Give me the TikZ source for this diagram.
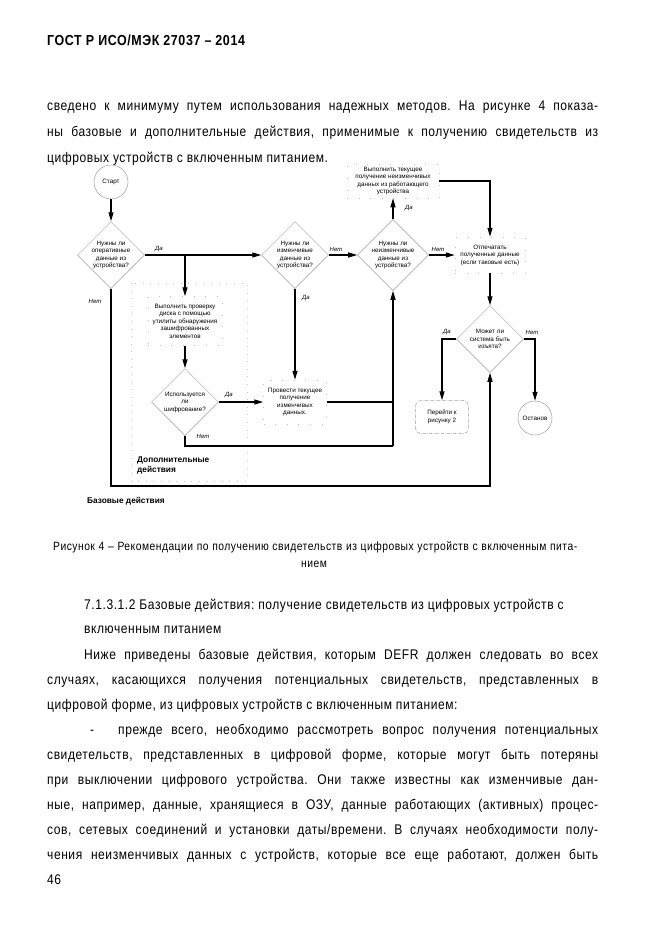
\documentclass[tikz,border=0pt]{standalone}
\usepackage{fontspec}
\setmainfont{Liberation Sans}
\newfontfamily\bodyfont{Liberation Sans}[FakeStretch=0.86,LetterSpace=4]
\usetikzlibrary{shapes.geometric,arrows.meta}
\frenchspacing
\newcommand\bodytxt{\bodyfont\fontsize{14}{16}\selectfont}
\newcommand\captxt{\bodyfont\fontsize{12}{14}\selectfont}
\newcommand\hdtxt{\bodyfont\bfseries\fontsize{14.5}{16}\selectfont}
\newcommand\dtext{\fontsize{6.3}{7.5}\selectfont}
\newcommand\ltext{\fontsize{6}{7}\selectfont\itshape}
\newcommand\grptxt{\fontsize{8.3}{10}\selectfont\bfseries}
\begin{document}
\begin{tikzpicture}[x=1pt,y=-1pt,
  txt/.style={anchor=base west,inner sep=0pt},
  flow/.style={draw=black,line width=1.2pt,-{Triangle[length=9pt,width=5pt]}},
  plain/.style={draw=black,line width=1.2pt},
  dia/.style={diamond,draw=gray!75,line width=0.5pt,minimum width=67pt,minimum height=67pt,inner sep=0pt,align=center,font=\dtext},
  term/.style={circle,draw=gray!75,line width=0.5pt,minimum size=34pt,inner sep=0pt,font=\dtext},
  act/.style={draw=gray!50,line width=0.5pt,dash pattern=on 0.6pt off 11pt,inner sep=0pt,align=center,font=\dtext},
  gotobox/.style={draw=gray!80,line width=0.5pt,rounded corners=5pt,dash pattern=on 3pt off 1.2pt on 0.6pt off 1.2pt,inner sep=0pt,align=center,font=\dtext,minimum width=53pt,minimum height=33pt},
  lab/.style={inner sep=0pt,font=\ltext},
  grp/.style={draw=gray!45,line width=0.5pt,dash pattern=on 0.6pt off 7pt}
]
\useasboundingbox[fill=white] (0,0) rectangle (661,935);

% ---- page text ----
\node[txt] (hdr) at (47,45) {\hdtxt ГОСТ Р ИСО/МЭК 27037 – 2014};
\node[txt] (t1) at (47,110) {\bodytxt\makebox[551pt][s]{сведено к минимуму путем использования надежных методов. На рисунке 4 показа-}};
\node[txt] (t2) at (47,136) {\bodytxt\makebox[551pt][s]{ны базовые и дополнительные действия, применимые к получению свидетельств из}};
\node[txt] (t3) at (47,162) {\bodytxt цифровых устройств с включенным питанием.};

% ---- diagram ----
\node[term] (start) at (111,182) {Старт};
\node[dia] (d1) at (111,255) {Нужны ли\\оперативные\\данные из\\устройства?};
\node[dia] (d2) at (295,255) {Нужны ли\\изменчивые\\данные из\\устройства?};
\node[dia] (d3) at (393,255) {Нужны ли\\неизменчивые\\данные из\\устройства?};
\node[dia] (d4) at (490,339) {Может ли\\система быть\\изъята?};
\node[dia] (d5) at (185,402) {Используется\\ли\\шифрование?};

\node[act,minimum width=92pt,minimum height=34pt] (np) at (393,181) {Выполнить текущее\\получение неизменчивых\\данных из работающего\\устройства};
\node[act,minimum width=70pt,minimum height=36pt] (print) at (490,255) {Отпечатать\\полученные данные\\(если таковые есть)};
\node[act,minimum width=74pt,minimum height=49pt] (disk) at (185,321) {Выполнить проверку\\диска с помощью\\утилиты обнаружения\\зашифрованных\\элементов};
\node[act,minimum width=63pt,minimum height=44pt] (vol) at (295,402) {Провести текущее\\получение\\изменчивых\\данных.};
\node[gotobox] (goto) at (442,417) {Перейти к\\рисунку 2};
\node[term] (stop) at (535,418) {Останов};

\draw[grp] (131,283) rectangle (247,481);
\node[anchor=north west,inner sep=0pt,align=left,font=\grptxt] (grpA) at (137,457) {Дополнительные\\действия};
\node[anchor=north west,inner sep=0pt,font=\grptxt] (grpB) at (87,497) {Базовые действия};

\coordinate (j1) at (185,255);
\coordinate (c1) at (490,486);
\coordinate (c2) at (393,446);

\draw[flow] (start) -- (d1);
\draw[flow] (d1.east) -- (d2.west);
\draw[flow] (j1) -- (disk.north);
\draw[flow] (disk) -- (d5);
\draw[flow] (d5.east) -- (vol.west);
\draw[flow] (d2.south) -- (vol.north);
\draw[flow] (d2.east) -- (d3.west);
\draw[flow] (d3.north) -- (np.south);
\draw[flow] (np.east) -| (print.north);
\draw[flow] (d3.east) -- (print.west);
\draw[flow] (print.south) -- (d4.north);
\draw[flow] (d4.west) -| (goto.north);
\draw[flow] (d4.east) -| (stop.north);
\draw[flow] (d1.south) |- (c1) -- (d4.south);
\draw[plain] (d5.south) |- (c2);
\draw[plain] (vol.east) -- (vol.east -| c2);
\draw[flow] (c2) -- (d3.south);

\node[lab] (l1) at (159,249) {Да};
\node[lab] (l2) at (95,301) {Нет};
\node[lab] (l3) at (336,249) {Нет};
\node[lab] (l4) at (306,298) {Да};
\node[lab] (l5) at (409,208) {Да};
\node[lab] (l6) at (438,249) {Нет};
\node[lab] (l7) at (447,332) {Да};
\node[lab] (l8) at (532,332) {Нет};
\node[lab] (l9) at (229,395) {Да};
\node[lab] (l10) at (203,436) {Нет};

% ---- caption and text below ----
\node[txt] (cap1) at (53,550) {\captxt\makebox[524pt][s]{Рисунок 4 – Рекомендации по получению свидетельств из цифровых устройств с включенным пита-}};
\node[anchor=base,inner sep=0pt] (cap2) at (314,567) {\captxt нием};
\node[txt] (h1) at (84,609) {\bodytxt 7.1.3.1.2 Базовые действия: получение свидетельств из цифровых устройств с};
\node[txt] (h2) at (84,633) {\bodytxt включенным питанием};
\node[txt] (p1) at (84,659) {\bodytxt\makebox[514pt][s]{Ниже приведены базовые действия, которым DEFR должен следовать во всех}};
\node[txt] (p2) at (47,684) {\bodytxt\makebox[551pt][s]{случаях, касающихся получения потенциальных свидетельств, представленных в}};
\node[txt] (p3) at (47,709) {\bodytxt цифровой форме, из цифровых устройств с включенным питанием:};
\node[txt] (p4a) at (90,734) {\bodytxt -};
\node[txt] (p4) at (118,734) {\bodytxt\makebox[480pt][s]{прежде всего, необходимо рассмотреть вопрос получения потенциальных}};
\node[txt] (p5) at (47,759) {\bodytxt\makebox[551pt][s]{свидетельств, представленных в цифровой форме, которые могут быть потеряны}};
\node[txt] (p6) at (47,784) {\bodytxt\makebox[551pt][s]{при выключении цифрового устройства. Они также известны как изменчивые дан-}};
\node[txt] (p7) at (47,809) {\bodytxt\makebox[551pt][s]{ные, например, данные, хранящиеся в ОЗУ, данные работающих (активных) процес-}};
\node[txt] (p8) at (47,834) {\bodytxt\makebox[551pt][s]{сов, сетевых соединений и установки даты/времени. В случаях необходимости полу-}};
\node[txt] (p9) at (47,859) {\bodytxt\makebox[551pt][s]{чения неизменчивых данных с устройств, которые все еще работают, должен быть}};
\node[txt] (pg) at (47,884) {\bodytxt 46};
\end{tikzpicture}
\end{document}
